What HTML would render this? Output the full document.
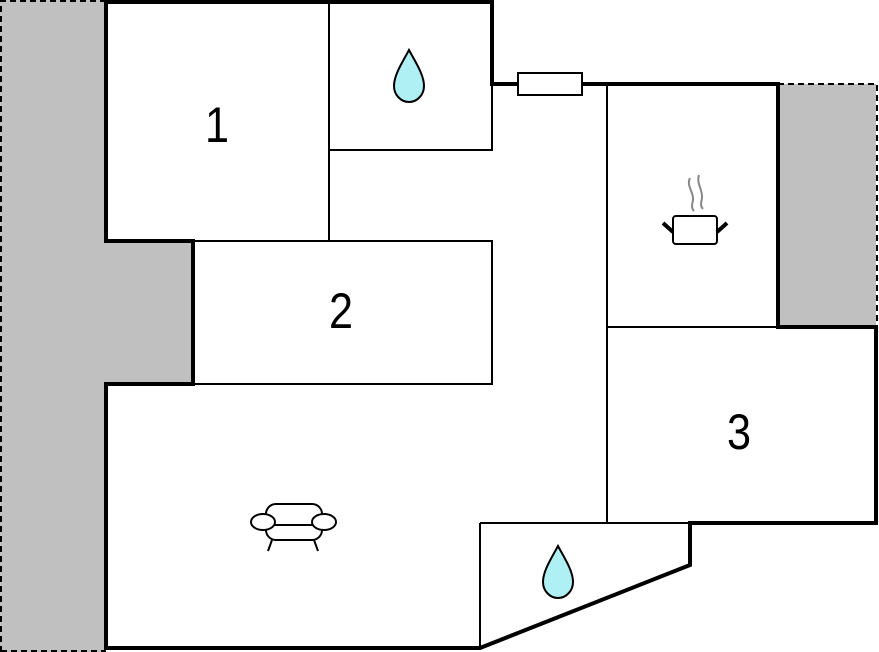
<!DOCTYPE html>
<html><head><style>html,body{margin:0;padding:0;background:#fff;}svg{display:block}</style></head>
<body>
<svg width="879" height="652" viewBox="0 0 879 652" xmlns="http://www.w3.org/2000/svg">
<path d="M0,0 H106 V241 H193 V384 H106 V652 H0 Z" fill="#c0c0c0"/>
<path d="M1,652 V1 H106 M1,651 H106" fill="none" stroke="#000" stroke-width="2" stroke-dasharray="6,4"/>
<rect x="778" y="84" width="98" height="243" fill="#c0c0c0"/>
<path d="M778,84 H877 V327" fill="none" stroke="#000" stroke-width="2" stroke-dasharray="6,4"/>
<g stroke="#000" stroke-width="2" fill="none">
<line x1="329" y1="2" x2="329" y2="241"/>
<line x1="329" y1="150" x2="493" y2="150"/>
<line x1="492" y1="84" x2="492" y2="151"/>
<rect x="193" y="241" width="299" height="143"/>
<line x1="607" y1="84" x2="607" y2="523"/>
<line x1="607" y1="327" x2="778" y2="327"/>
<line x1="480" y1="523" x2="690" y2="523"/>
<line x1="480" y1="523" x2="480" y2="648"/>
</g>
<path d="M106,2 H492 V84 H778 V327 H876 V523 H690 V565 L480,648 H106 V384 H193 V241 H106 Z" fill="none" stroke="#000" stroke-width="4" stroke-linejoin="miter"/>
<rect x="518" y="73" width="64" height="22" fill="#fff" stroke="#000" stroke-width="2"/>
<g font-family="Liberation Sans, sans-serif" font-size="48" text-anchor="middle" fill="#000">
<text x="217" y="142" transform="translate(217,142) scale(0.9,1.05) translate(-217,-142)">1</text>
<text x="341" y="328" transform="translate(341,328) scale(0.9,1.05) translate(-341,-328)">2</text>
<text x="739" y="449" transform="translate(739,449) scale(0.9,1.05) translate(-739,-449)">3</text>
</g>
<g fill="#aef0f4" stroke="#000" stroke-width="2">
<path d="M409,50 C402,63 394,75 394,86 C394,95 401,102 409,102 C417,102 424,95 424,86 C424,75 416,63 409,50 Z"/>
<path d="M558,546 C551,559 543,571 543,582 C543,591 550,598 558,598 C566,598 573,591 573,582 C573,571 565,559 558,546 Z"/>
</g>
<g fill="none" stroke="#888" stroke-width="2">
<path d="M690,178 C686,186 694,192 693,200 C692,205 691,208 694,211"/>
<path d="M699,175 C696,183 703,190 702,198 C701,203 700,206 703,209"/>
</g>
<rect x="673" y="216" width="44" height="28" rx="3" fill="#fff" stroke="#000" stroke-width="2"/>
<line x1="663" y1="223" x2="673" y2="232" stroke="#000" stroke-width="4"/>
<line x1="727" y1="223" x2="717" y2="232" stroke="#000" stroke-width="4"/>
<g fill="#fff" stroke="#000" stroke-width="2">
<rect x="266" y="504" width="56" height="36" rx="10"/>
<line x1="272" y1="540" x2="268" y2="551"/><line x1="314" y1="540" x2="318" y2="551"/>
<ellipse cx="263" cy="522" rx="12" ry="8"/><ellipse cx="324" cy="522" rx="12" ry="8"/>
<line x1="274" y1="525" x2="313" y2="525"/>
</g>
</svg>
</body></html>
